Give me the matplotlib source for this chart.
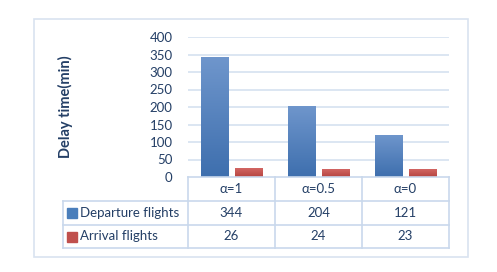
import numpy as np
import matplotlib.pyplot as plt
from matplotlib.patches import Rectangle
from matplotlib.lines import Line2D

categories = ['α=1', 'α=0.5', 'α=0']
series_names = ['Departure flights', 'Arrival flights']
departure = [344, 204, 121]
arrival = [26, 24, 23]
yticks = [0, 50, 100, 150, 200, 250, 300, 350, 400]

plt.rcParams['font.family'] = ['Lato', 'DejaVu Sans']

W, H = 497, 272
fig = plt.figure(figsize=(W / 100, H / 100), dpi=100)

def fx(x):
    return x / W

def fy(y):
    return 1 - y / H

txt_color = '#243f66'
grid_color = '#d6e1f0'
colors = ['#4a7ebb', '#c0504d']
tops = ['#6f96cc', '#d56a67']
bottoms = ['#3e6fae', '#b64440']
fs = 9.5

# plot area
x0, x1, ytop, ybot = 188, 449, 37, 177
ax = fig.add_axes([fx(x0), fy(ybot), fx(x1 - x0), (ybot - ytop) / H])
for s in ax.spines.values():
    s.set_visible(False)
ax.set_yticks(yticks)
ax.set_yticklabels([str(t) for t in yticks], fontsize=fs, color=txt_color)
ax.tick_params(axis='y', length=0, pad=11)
ax.set_xticks([])
for t in yticks[1:]:
    ax.axhline(t, color=grid_color, lw=1.2, zorder=0)

xs = np.arange(len(categories))
bw = 0.32
gap = 0.07
gradient = np.linspace(0, 1, 64).reshape(-1, 1)
for i, vals in enumerate([departure, arrival]):
    off = -(bw + gap) / 2 if i == 0 else (bw + gap) / 2
    bars = ax.bar(xs + off, vals, width=bw, color=colors[i], zorder=2)
    cmap = plt.matplotlib.colors.LinearSegmentedColormap.from_list('g', [bottoms[i], tops[i]])
    for b in bars:
        im = ax.imshow(gradient, cmap=cmap, aspect='auto', origin='lower',
                       extent=[b.get_x(), b.get_x() + b.get_width(), 0, b.get_height()],
                       zorder=3)
        im.set_clip_path(b)
ax.set_xlim(-0.5, len(categories) - 0.5)
ax.set_ylim(0, 400)

ax.text(-0.471, 0.5, 'Delay time(min)', transform=ax.transAxes, rotation=90,
        ha='center', va='center', fontsize=10.5, fontweight='bold', color=txt_color)

# data table below the axis
line_kw = dict(color='#c9d8ec', lw=1.2, transform=fig.transFigure)
col_x = [x0 + (x1 - x0) * k / 3 for k in range(4)]
row_y = [177, 201, 225, 248]
lx = 63
fig.add_artist(Line2D([fx(x0), fx(x1)], [fy(row_y[0])] * 2, **line_kw))
for y in row_y[1:]:
    fig.add_artist(Line2D([fx(lx), fx(x1)], [fy(y)] * 2, **line_kw))
for x in col_x:
    fig.add_artist(Line2D([fx(x)] * 2, [fy(row_y[0]), fy(row_y[-1])], **line_kw))
fig.add_artist(Line2D([fx(lx)] * 2, [fy(row_y[1]), fy(row_y[-1])], **line_kw))

for k, c in enumerate(categories):
    fig.text(fx((col_x[k] + col_x[k + 1]) / 2), fy((row_y[0] + row_y[1]) / 2), c,
             ha='center', va='center', fontsize=fs, color=txt_color)
for r, (name, vals) in enumerate(zip(series_names, [departure, arrival])):
    yc = (row_y[r + 1] + row_y[r + 2]) / 2
    fig.add_artist(Rectangle((fx(67), fy(yc + 5)), fx(10), 10 / H, color=colors[r],
                             transform=fig.transFigure))
    fig.text(fx(80), fy(yc), name, ha='left', va='center', fontsize=fs, color=txt_color)
    for k, v in enumerate(vals):
        fig.text(fx((col_x[k] + col_x[k + 1]) / 2), fy(yc), str(v),
                 ha='center', va='center', fontsize=fs, color=txt_color)

# outer chart border
fig.add_artist(Rectangle((fx(34), fy(257)), fx(468 - 34), (257 - 19) / H, fill=False,
                         edgecolor='#d9e3f0', lw=1.2, transform=fig.transFigure))

fig.savefig('out.png', dpi=100)
